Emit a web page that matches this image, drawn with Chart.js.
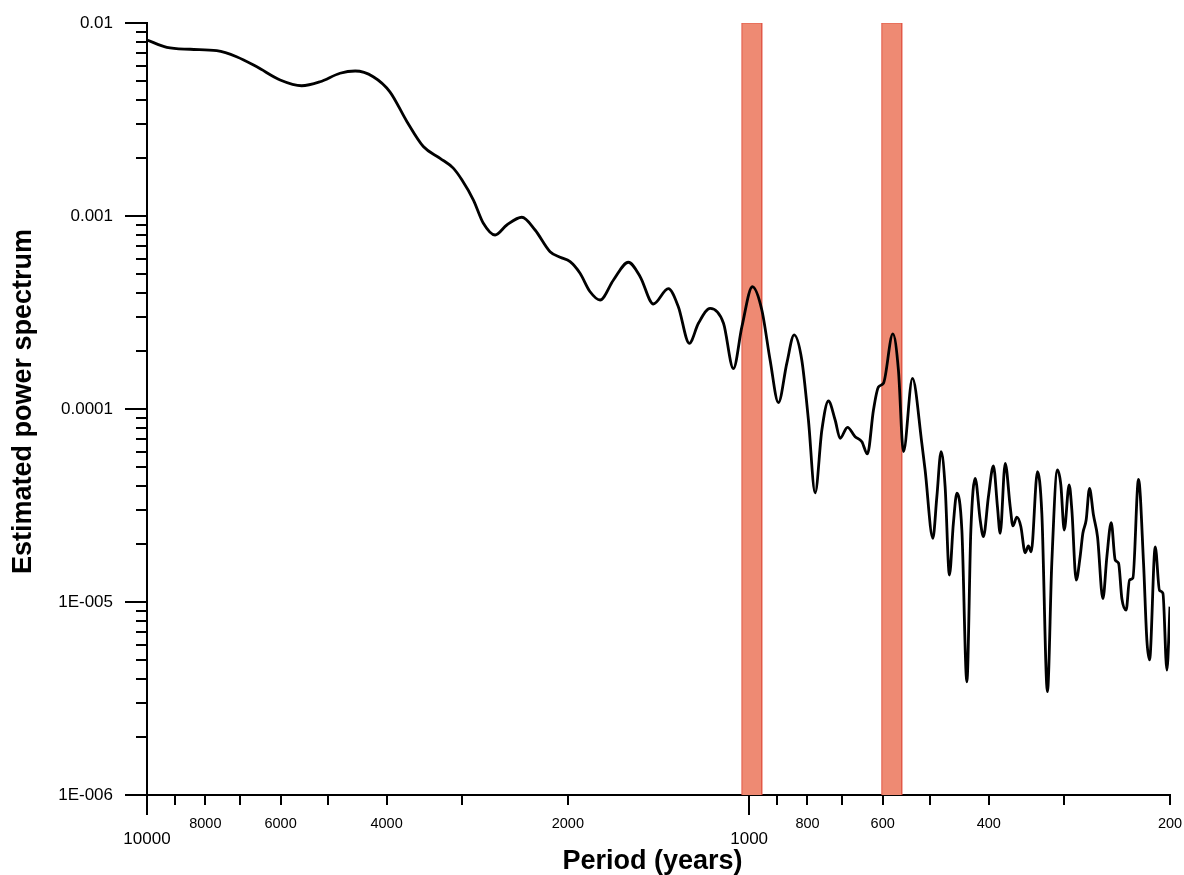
<!DOCTYPE html>
<html>
<head>
<meta charset="utf-8">
<style>
html,body{margin:0;padding:0;background:#fff;}
#wrap{width:1184px;height:875px;position:relative;}
</style>
<script src="https://cdn.jsdelivr.net/npm/chart.js@4.4.1/dist/chart.umd.min.js"></script>
</head>
<body>
<div id="wrap"><canvas id="c"></canvas></div>
<script>
// ---------- data ----------
const periods = [10000, 9270, 8480, 7660, 7100, 6570, 6010, 5535, 5160, 4780,
  4510, 4210, 3950, 3700, 3476, 3260, 3100, 3000, 2870, 2763,
  2642, 2526, 2385, 2267, 2141, 2060, 1983, 1909, 1837, 1768,
  1680, 1587, 1517, 1442, 1362, 1311, 1257, 1214, 1161, 1103,
  1062, 1028, 987.5, 952.6, 922.8, 894.0, 865.7, 841.9, 817.5, 797.1,
  776.9, 757.2, 738.4, 719.7, 706.1, 686.6, 666.7, 649.8, 636.1, 621.6,
  609.9, 598.3, 577.2, 565.0, 554.3, 535.5, 516.6, 510.2, 495.3, 487.8,
  479.9, 472.6, 464.9, 457.9, 451.8, 443.3, 434.9, 428.3, 421.3, 413.3,
  408.2, 400.5, 392.9, 386.9, 382.9, 375.6, 368.5, 364.7, 359.2, 353.8,
  348.0, 343.7, 340.1, 332.0, 326.5, 319.6, 314.3, 307.6, 303.6, 299.7,
  294.1, 291.1, 286.3, 282.0, 279.1, 275.6, 272.1, 268.0, 263.9, 258.5,
  254.6, 250.4, 246.6, 243.5, 240.4, 236.5, 233.5, 230.5, 225.6, 221.3,
  218.5, 216.3, 211.6, 208.2, 205.5, 202.4, 200];

const power = [8.17e-3, 7.48e-3, 7.31e-3, 7.19e-3, 6.69e-3, 5.93e-3, 5.07e-3, 4.73e-3, 4.96e-3, 5.49e-3,
  5.64e-3, 5.27e-3, 4.40e-3, 3.08e-3, 2.29e-3, 1.99e-3, 1.77e-3, 1.54e-3, 1.21e-3, 9.17e-4,
  7.97e-4, 8.98e-4, 9.85e-4, 8.46e-4, 6.53e-4, 6.11e-4, 5.80e-4, 5.05e-4, 4.05e-4, 3.67e-4,
  4.66e-4, 5.76e-4, 4.85e-4, 3.50e-4, 4.20e-4, 3.39e-4, 2.19e-4, 2.78e-4, 3.32e-4, 2.78e-4,
  1.62e-4, 2.67e-4, 4.30e-4, 3.26e-4, 1.79e-4, 1.08e-4, 1.73e-4, 2.42e-4, 1.79e-4, 8.77e-5,
  3.68e-5, 7.78e-5, 1.10e-4, 8.77e-5, 7.05e-5, 8.04e-5, 7.19e-5, 6.77e-5, 5.85e-5, 9.88e-5,
  1.30e-4, 1.36e-4, 2.45e-4, 1.59e-4, 6.01e-5, 1.44e-4, 6.64e-5, 4.83e-5, 2.14e-5, 3.51e-5,
  6.01e-5, 3.96e-5, 1.38e-5, 2.56e-5, 3.66e-5, 2.36e-5, 3.86e-6, 2.36e-5, 4.37e-5, 2.66e-5,
  2.18e-5, 3.51e-5, 5.07e-5, 3.12e-5, 2.27e-5, 5.23e-5, 3.12e-5, 2.48e-5, 2.75e-5, 2.46e-5,
  1.80e-5, 1.95e-5, 1.82e-5, 4.73e-5, 2.88e-5, 3.43e-6, 1.59e-5, 4.83e-5, 4.04e-5, 2.36e-5,
  4.04e-5, 3.00e-5, 1.30e-5, 1.72e-5, 2.27e-5, 2.66e-5, 3.88e-5, 2.82e-5, 2.18e-5, 1.04e-5,
  1.72e-5, 2.58e-5, 1.65e-5, 1.59e-5, 1.04e-5, 9.09e-6, 1.30e-5, 1.33e-5, 4.32e-5, 1.59e-5,
  6.35e-6, 5.01e-6, 1.93e-5, 1.15e-5, 1.11e-5, 4.44e-6, 9.46e-6];

// highlighted period bands (years)
const bandLongPeriod  = [1028, 602];
const bandShortPeriod = [953, 558];

// axes
const xMin = 200, xMax = 10000;
const yMin = 1e-6, yMax = 1e-2;
const xTickValues  = [10000, 9000, 8000, 7000, 6000, 5000, 4000, 3000, 2000, 1000, 900, 800, 700, 600, 500, 400, 300, 200];
const xMajorValues = [10000, 1000];
const xLabelValues = [10000, 8000, 6000, 4000, 2000, 1000, 800, 600, 400, 200];
const yMajorValues = [1e-2, 1e-3, 1e-4, 1e-5, 1e-6];
const yMajorLabels = ['0.01', '0.001', '0.0001', '1E-005', '1E-006'];
const yMinorMultipliers = [2, 3, 4, 5, 6, 7, 8, 9];
const xTitle = 'Period (years)';
const yTitle = 'Estimated power spectrum';

// ---------- helpers ----------
const same = (a, b) => Math.abs(Math.log10(a) - Math.log10(b)) < 1e-6;
const isXMajor = v => xMajorValues.some(m => same(m, v));
const yTickValues = [];
yMajorValues.forEach(m => {
  yTickValues.push(m);
  if (m < yMax) yMinorMultipliers.forEach(k => yTickValues.push(m * k));
});
yTickValues.sort((a, b) => a - b);

function xLabel(v) {
  if (!xLabelValues.some(l => same(l, v))) return '';
  const txt = String(Math.round(v));
  return isXMajor(v) ? ['', txt] : txt;
}
function yLabel(v) {
  const i = yMajorValues.findIndex(m => same(m, v));
  return i >= 0 ? yMajorLabels[i] : '';
}

const TITLE_FONT = 'bold 27px "Liberation Sans", Arial, Helvetica, sans-serif';

const axisDecor = {
  id: 'axisDecor',
  afterDraw(chart) {
    const {ctx, chartArea, scales} = chart;
    ctx.save();
    ctx.strokeStyle = '#000';
    ctx.lineWidth = 2;
    xTickValues.forEach(v => {
      const px = Math.round(scales.x.getPixelForValue(v));
      const len = isXMajor(v) ? 20 : 10;
      ctx.beginPath();
      ctx.moveTo(px, chartArea.bottom);
      ctx.lineTo(px, chartArea.bottom + len);
      ctx.stroke();
    });
    yTickValues.forEach(v => {
      const py = Math.round(scales.y.getPixelForValue(v));
      const len = yMajorValues.some(m => same(m, v)) ? 22 : 11;
      ctx.beginPath();
      ctx.moveTo(chartArea.left - len, py);
      ctx.lineTo(chartArea.left, py);
      ctx.stroke();
    });
    // axis titles
    ctx.fillStyle = '#000';
    ctx.font = TITLE_FONT;
    ctx.textAlign = 'center';
    ctx.textBaseline = 'middle';
    ctx.fillText(xTitle, (chartArea.left + chartArea.right) / 2 - 6, chart.height - 13.5);
    ctx.translate(24, (chartArea.top + chartArea.bottom) / 2 - 7.5);
    ctx.rotate(-Math.PI / 2);
    ctx.fillText(yTitle, 0, 0);
    ctx.restore();
  }
};

Chart.defaults.font.family = '"Liberation Sans", Arial, Helvetica, sans-serif';
Chart.defaults.color = '#000';

const bandDatasets = bandLongPeriod.map((p, i) => ({
  type: 'line',
  data: [
    {x: p, y: yMin}, {x: p, y: yMax},
    {x: bandShortPeriod[i], y: yMax}, {x: bandShortPeriod[i], y: yMin}
  ],
  borderColor: 'rgb(226,88,70)',
  borderWidth: 1,
  backgroundColor: 'rgb(238,138,115)',
  fill: 'start',
  pointRadius: 0,
  tension: 0,
  order: 2
}));

new Chart(document.getElementById('c'), {
  type: 'line',
  data: {
    datasets: [
      {
        data: periods.map((p, i) => ({x: p, y: power[i]})),
        borderColor: '#000',
        borderWidth: 2.8,
        pointRadius: 0,
        fill: false,
        cubicInterpolationMode: 'monotone',
        order: 0
      },
      ...bandDatasets
    ]
  },
  options: {
    responsive: true,
    maintainAspectRatio: false,
    animation: false,
    devicePixelRatio: 1,
    layout: {padding: {top: 23, right: 14, bottom: 0, left: 0}},
    plugins: {legend: {display: false}, tooltip: {enabled: false}},
    scales: {
      x: {
        type: 'logarithmic',
        position: 'bottom',
        reverse: true,
        min: xMin,
        max: xMax,
        afterBuildTicks: s => { s.ticks = xTickValues.slice().sort((a, b) => a - b).map(v => ({value: v})); },
        afterFit: s => { s.height = 80; },
        grid: {display: false, drawTicks: true, tickLength: 22},
        border: {display: true, color: '#000', width: 2},
        ticks: {
          autoSkip: false, maxRotation: 0, minRotation: 0, padding: 0, color: '#000',
          font: c => (c.tick && isXMajor(c.tick.value)) ? {size: 17, lineHeight: 0.863} : {size: 14.5, lineHeight: 1.0},
          callback: v => xLabel(v)
        },
        title: {display: false}
      },
      y: {
        type: 'logarithmic',
        position: 'left',
        min: yMin,
        max: yMax,
        afterBuildTicks: s => { s.ticks = yTickValues.map(v => ({value: v})); },
        afterFit: s => { s.width = 147; },
        grid: {display: false, drawTicks: true, tickLength: 34},
        border: {display: true, color: '#000', width: 2},
        ticks: {
          autoSkip: false, padding: 0, color: '#000',
          font: {size: 17},
          callback: v => yLabel(v)
        },
        title: {display: false}
      }
    }
  },
  plugins: [axisDecor]
});
</script>
</body>
</html>
